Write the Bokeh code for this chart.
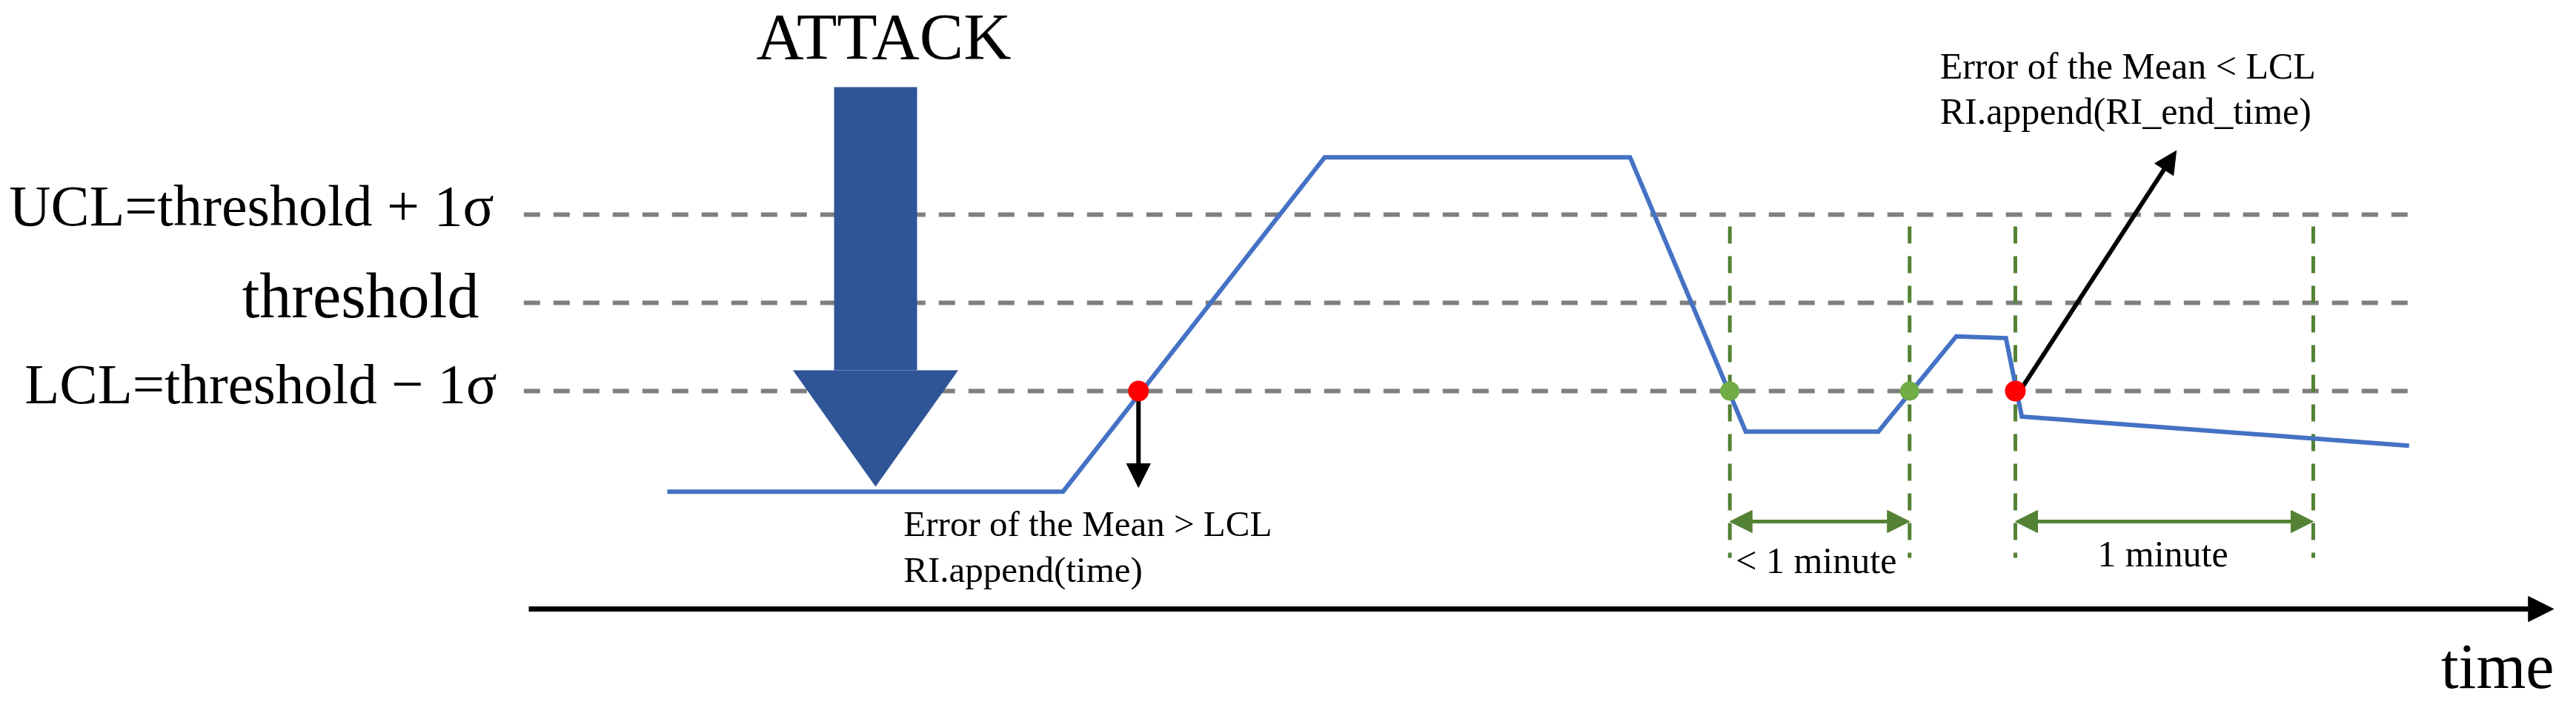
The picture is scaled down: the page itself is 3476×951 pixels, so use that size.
from bokeh.plotting import figure
from bokeh.models import Range1d, Arrow, NormalHead
from bokeh.core.properties import value
from bokeh.embed import file_html
from bokeh.resources import INLINE

# ---------------- data (time in seconds, level in sigma units around threshold) -------------
signal_t = [27.9, 107.6, 160.3, 221.8, 245.1, 271.8, 287.5, 297.5, 300.7, 378.7]
signal_level = [-2.14, -2.14, 1.65, 1.65, -1.46, -1.46, -0.38, -0.40, -1.29, -1.62]

limit_names = ["UCL=threshold + 1\u03c3", "threshold", "LCL=threshold \u2212 1\u03c3"]
limit_levels = [1.0, 0.0, -1.0]

start_cross_t = [122.8]          # Error of the Mean > LCL  (red)
dip_cross_t = [241.9, 278.1]     # short dip below LCL (green)
end_cross_t = [299.4]            # Error of the Mean < LCL  (red)
window_t = [241.9, 278.1, 299.4, 359.4]
interval_start = [241.9, 299.4]
interval_end = [278.1, 359.4]
interval_labels = ["< 1 minute", "1 minute"]

attack_t = 69.85
time_axis_end = 407.8

note_start = ["Error of the Mean > LCL", "RI.append(time)"]
note_end = ["Error of the Mean < LCL", "RI.append(RI_end_time)"]

# ---------------- layout ----------------
W, H = 3476, 951
PX_T = 6.7      # pixels per second
PX_S = 119.0    # pixels per sigma
X0 = -713 / PX_T
YTOP = 408 / PX_S
FONT = value("Liberation Serif")

p = figure(width=W, height=H, output_backend="svg", toolbar_location=None,
           x_range=Range1d(X0, X0 + W / PX_T), y_range=Range1d(YTOP - H / PX_S, YTOP),
           x_axis_type=None, y_axis_type=None, min_border=0,
           outline_line_color=None, background_fill_color="white",
           border_fill_color="white")

GRAY = "#7f7f7f"
BLUE = "#4472C4"
DARK_BLUE = "#2F5597"
GREEN = "#548235"
LIGHT_GREEN = "#70AD47"

# control limit lines
n = len(limit_levels)
p.segment(x0=[-1.0] * n, y0=limit_levels, x1=[379.0] * n, y1=limit_levels,
          line_color=GRAY, line_width=6, line_dash="22 18")

# green window verticals
m = len(window_t)
p.segment(x0=window_t, y0=[0.866] * m, x1=window_t, y1=[-2.891] * m,
          line_color=GREEN, line_width=5, line_dash="23 17")

# signal
p.line(signal_t, signal_level, line_color=BLUE, line_width=6, line_join="miter")

# ATTACK arrow
half_shaft = 56 / PX_T
half_head = 111.5 / PX_T
p.quad(left=[attack_t - half_shaft], right=[attack_t + half_shaft], top=[2.445], bottom=[-0.765],
       fill_color=DARK_BLUE, line_color=None)
p.patch([attack_t - half_head, attack_t + half_head, attack_t], [-0.765, -0.765, -2.084],
        fill_color=DARK_BLUE, line_color=None)
p.text(x=[attack_t + 1.65], y=[3.025], text=["ATTACK"], text_font=FONT,
       text_font_size="89px", text_align="center", text_baseline="middle", text_color="black")

# black arrows
p.add_layout(Arrow(end=NormalHead(size=32, fill_color="black", line_color="black"),
                   x_start=start_cross_t[0], y_start=-1.0, x_end=start_cross_t[0], y_end=-2.092,
                   line_color="black", line_width=6))
p.add_layout(Arrow(end=NormalHead(size=30, fill_color="black", line_color="black"),
                   x_start=end_cross_t[0] + 0.9, y_start=-1.0, x_end=331.8, y_end=1.723,
                   line_color="black", line_width=6))

# green interval arrows
for a, b in zip(interval_start, interval_end):
    p.add_layout(Arrow(start=NormalHead(size=30, fill_color=GREEN, line_color=GREEN),
                       end=NormalHead(size=30, fill_color=GREEN, line_color=GREEN),
                       x_start=a, y_start=-2.479, x_end=b, y_end=-2.479,
                       line_color=GREEN, line_width=5))

# time axis
p.add_layout(Arrow(end=NormalHead(size=34, fill_color="black", line_color="black"),
                   x_start=0.0, y_start=-3.471, x_end=time_axis_end, y_end=-3.471,
                   line_color="black", line_width=7))

# crossing points
p.scatter(start_cross_t + end_cross_t, [-1.0, -1.0], size=28, fill_color="#FF0000",
          line_color=None, level="overlay")
p.scatter(dip_cross_t, [-1.0, -1.0], size=26, fill_color=LIGHT_GREEN,
          line_color=None, level="overlay")

# limit labels
p.text(x=[-7.0], y=[1.097], text=[limit_names[0]], text_font=FONT,
       text_font_size="78px", text_align="right", text_baseline="middle", text_color="black")
p.text(x=[-6.4], y=[-0.920], text=[limit_names[2]], text_font=FONT,
       text_font_size="77px", text_align="right", text_baseline="middle", text_color="black")
p.text(x=[-10.0], y=[0.076], text=[limit_names[1]], text_font=FONT,
       text_font_size="86px", text_align="right", text_baseline="middle", text_color="black")

# notes
p.text(x=[75.5, 75.5], y=[-2.508, -3.025], text=note_start, text_font=FONT,
       text_font_size="49px", text_align="left", text_baseline="middle", text_color="black")
p.text(x=[284.2, 284.2], y=[2.681, 2.176], text=note_end, text_font=FONT,
       text_font_size="50px", text_align="left", text_baseline="middle", text_color="black")
p.text(x=[259.3, 329.1], y=[-2.916, -2.845], text=interval_labels, text_font=FONT,
       text_font_size="50px", text_align="center", text_baseline="middle", text_color="black")

# axis label
p.text(x=[385.1], y=[-4.118], text=["time"], text_font=FONT, text_font_size="86px",
       text_align="left", text_baseline="middle", text_color="black")

open("out.html", "w").write(file_html(p, INLINE))
